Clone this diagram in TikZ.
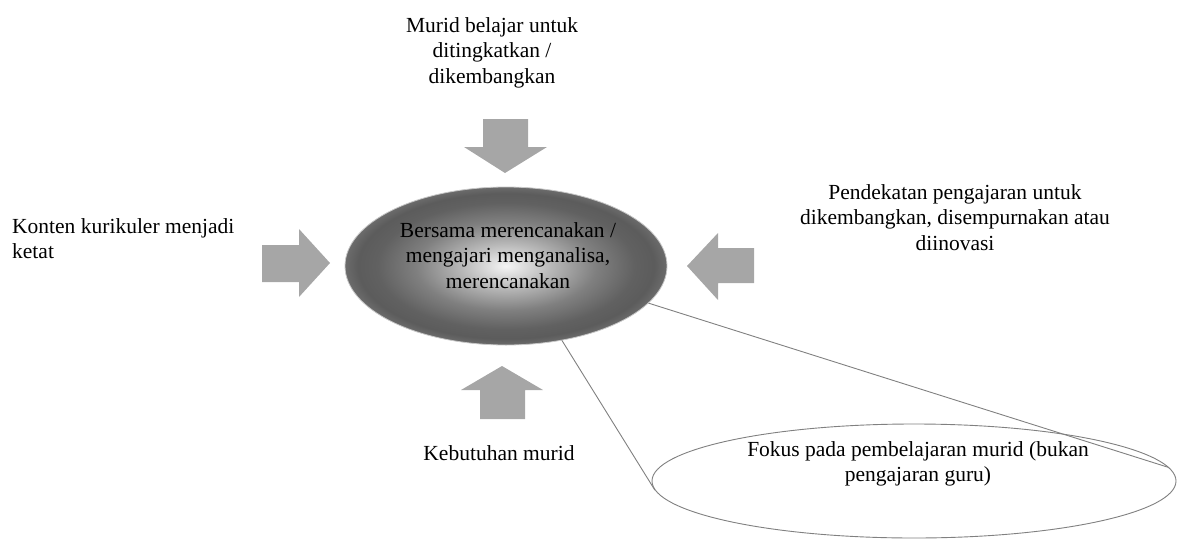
\documentclass[tikz,border=0pt]{standalone}
\usepackage{fontspec}
\setmainfont{Liberation Serif}
\usetikzlibrary{shapes.geometric}
\definecolor{arrowgray}{HTML}{A6A6A6}
\definecolor{linegray}{HTML}{808080}
\pgfdeclareradialshading{ballgray}{\pgfpoint{0bp}{0bp}}{%
  color(0bp)=(black!4); color(7bp)=(black!28); color(14bp)=(black!50);
  color(20bp)=(black!62); color(23bp)=(black!64); color(25bp)=(black!58); color(50bp)=(black!58)}
\tikzset{
  txt/.style={font=\fontsize{21.5}{25.5}\selectfont, inner sep=0pt, align=center, anchor=north},
  blockarrow/.style={fill=arrowgray, draw=none},
  calloutline/.style={draw=linegray, line width=0.9pt},
}
\begin{document}
\begin{tikzpicture}[x=1pt, y=-1pt]
\useasboundingbox (0,0) rectangle (1177,538);
% callout ellipse and pointer
\coordinate (tip) at (512,260);
\node[ellipse, draw=linegray, line width=0.9pt, fill=white, minimum width=524pt, minimum height=114pt, inner sep=0pt] (fokus) at (914,481) {};
\draw[calloutline] (tip) -- (fokus.3);
\draw[calloutline] (tip) -- (fokus.182);
% central ellipse
\node[ellipse, shading=ballgray, draw=black!22, line width=0.8pt, minimum width=322pt, minimum height=158pt, inner sep=0pt] (core) at (506,266) {};
\node[txt] (coretext) at (508,222) {Bersama merencanakan /\\ mengajari menganalisa,\\ merencanakan};
% block arrows
\path[blockarrow] (483,119) -- (528,119) -- (528,147) -- (547,147) -- (505,173) -- (464,147) -- (483,147) -- cycle;
\path[blockarrow] (262,245) -- (299,245) -- (299,229) -- (330,263) -- (299,297) -- (299,282) -- (262,282) -- cycle;
\path[blockarrow] (754,248) -- (718,248) -- (718,233) -- (687,266) -- (718,300) -- (718,283) -- (754,283) -- cycle;
\path[blockarrow] (480,419) -- (480,390) -- (461,390) -- (502,366) -- (543,390) -- (525,390) -- (525,419) -- cycle;
% labels
\node[txt] (top) at (492,17) {Murid belajar untuk\\ ditingkatkan /\\ dikembangkan};
\node[txt, align=left, anchor=north west] (left) at (12,218) {Konten kurikuler menjadi\\ ketat};
\node[txt] (right) at (955,184) {Pendekatan pengajaran untuk\\ dikembangkan, disempurnakan atau\\ diinovasi};
\node[txt] (bottom) at (499,445) {Kebutuhan murid};
\node[txt] (fokustext) at (918,441) {Fokus pada pembelajaran murid (bukan\\ pengajaran guru)};
\end{tikzpicture}
\end{document}
